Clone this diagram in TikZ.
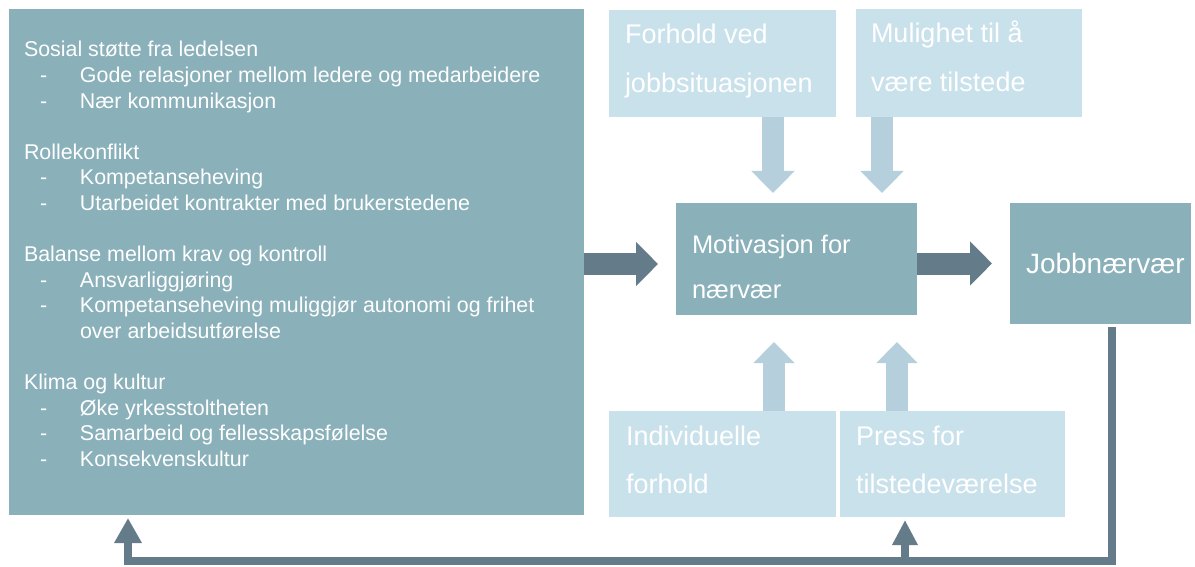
\documentclass[tikz,border=0pt]{standalone}
\usepackage{fontspec}
\setmainfont{Liberation Sans}
\usetikzlibrary{arrows.meta}

\definecolor{boxdark}{HTML}{8AB0BA}
\definecolor{boxlight}{HTML}{C9E1EB}
\definecolor{arrowdark}{HTML}{647B8A}
\definecolor{arrowlight}{HTML}{B5D0DC}

% one indented bullet line of the list
\newcommand\listitem[1]{\hbox{\hbox to 56pt{\hskip16pt -\hfil}#1}}
\newcommand\listcont[1]{\hbox{\hskip56pt #1}}

\begin{document}
\begin{tikzpicture}[x=1pt,y=-1pt,
  panel/.style={anchor=north west, inner sep=0pt, outer sep=0pt},
  darkpanel/.style={panel, fill=boxdark},
  lightpanel/.style={panel, fill=boxlight},
  boxtext/.style={anchor=base west, inner sep=0pt, outer sep=0pt, text=white},
  bigdark/.style={draw=arrowdark, line width=22pt,
    -{Triangle[length=22pt,width=43pt]}},
  biglight/.style={draw=arrowlight, line width=22pt,
    -{Triangle[length=22pt,width=42pt]}},
  loopline/.style={draw=arrowdark, line width=8pt, line join=miter,
    -{Triangle[length=25pt,width=26pt]}},
]
\useasboundingbox (0,0) rectangle (1195,567);
\fill[white] (0,0) rectangle (1195,567);

% panels
\node[darkpanel, minimum width=575pt, minimum height=506pt] (causes) at (9,9) {};
\node[lightpanel, minimum width=227pt, minimum height=107pt] (forhold) at (609,10) {};
\node[lightpanel, minimum width=226pt, minimum height=108pt] (mulighet) at (856,9) {};
\node[darkpanel, minimum width=241pt, minimum height=112pt] (motiv) at (676,203) {};
\node[darkpanel, minimum width=181pt, minimum height=121pt] (job) at (1010,203) {};
\node[lightpanel, minimum width=227pt, minimum height=106pt] (indiv) at (609,411) {};
\node[lightpanel, minimum width=225pt, minimum height=106pt] (press) at (840,411) {};

% texts
\node[boxtext, font=\fontsize{21.4}{25.6}\selectfont] (causestxt) at (24,57) {\vtop{%
  \baselineskip=25.6pt
  \hbox{Sosial støtte fra ledelsen}
  \listitem{Gode relasjoner mellom ledere og medarbeidere}
  \listitem{Nær kommunikasjon}
  \hbox{}
  \hbox{Rollekonflikt}
  \listitem{Kompetanseheving}
  \listitem{Utarbeidet kontrakter med brukerstedene}
  \hbox{}
  \hbox{Balanse mellom krav og kontroll}
  \listitem{Ansvarliggjøring}
  \listitem{Kompetanseheving muliggjør autonomi og frihet}
  \listcont{over arbeidsutførelse}
  \hbox{}
  \hbox{Klima og kultur}
  \listitem{Øke yrkesstoltheten}
  \listitem{Samarbeid og fellesskapsfølelse}
  \listitem{Konsekvenskultur}}};

\node[boxtext, font=\fontsize{27}{49}\selectfont] (forholdtxt) at (625,44)
  {\vtop{\baselineskip=49pt \hbox{Forhold ved}\hbox{jobbsituasjonen}}};
\node[boxtext, font=\fontsize{27}{49}\selectfont] (mulighettxt) at (871,43)
  {\vtop{\baselineskip=49pt \hbox{Mulighet til å}\hbox{være tilstede}}};
\node[boxtext, font=\fontsize{25.5}{45}\selectfont] (motivtxt) at (692,253)
  {\vtop{\baselineskip=45pt \hbox{Motivasjon for}\hbox{nærvær}}};
\node[boxtext, font=\fontsize{28}{34}\selectfont] (jobtxt) at (1026,273) {Jobbnærvær};
\node[boxtext, font=\fontsize{27}{48}\selectfont] (indivtxt) at (626,445)
  {\vtop{\baselineskip=48pt \hbox{Individuelle}\hbox{forhold}}};
\node[boxtext, font=\fontsize{27}{48}\selectfont] (presstxt) at (856,445)
  {\vtop{\baselineskip=48pt \hbox{Press for}\hbox{tilstedeværelse}}};

% main flow
\draw[bigdark, shorten >=18pt] ([yshift=-2pt]causes.east) -- ([yshift=-2pt]causes.east -| motiv.west);
\draw[bigdark, shorten >=18pt] ([yshift=-4.5pt]motiv.east) -- ([yshift=-4.5pt]motiv.east -| job.west);

% influences from above
\draw[biglight, shorten >=10pt] ([xshift=50.5pt]forhold.south) -- ([xshift=50.5pt]forhold.south |- motiv.north);
\draw[biglight, shorten >=10pt] ([xshift=-87pt]mulighet.south) -- ([xshift=-87pt]mulighet.south |- motiv.north);

% influences from below
\draw[biglight, -{Triangle[length=21pt,width=40pt]}, shorten >=27pt] ([xshift=51.5pt]indiv.north) -- ([xshift=51.5pt]indiv.north |- motiv.south);
\draw[biglight, -{Triangle[length=21pt,width=40pt]}, shorten >=27pt] ([xshift=-55.5pt]press.north) -- ([xshift=-55.5pt]press.north |- motiv.south);

% feedback loop
\coordinate (loopcorner) at (128,561);
\coordinate (branchfoot) at (905,561);
\draw[loopline, shorten <=3pt, shorten >=3pt] ([xshift=11.5pt]job.south) |- (loopcorner) -- (loopcorner |- causes.south);
\draw[loopline, -{Triangle[length=25pt,width=24pt]}, shorten >=3pt] (branchfoot) -- (branchfoot |- press.south);
\end{tikzpicture}
\end{document}
